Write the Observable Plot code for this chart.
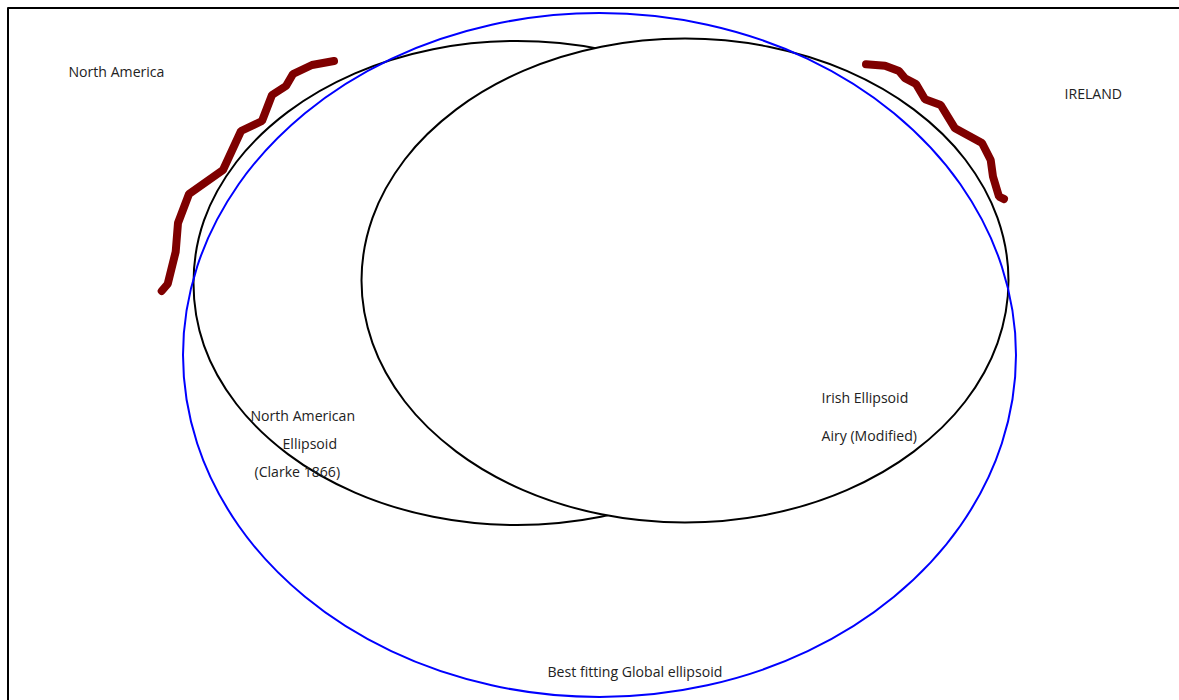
<!DOCTYPE html>
<html>
<head>
<meta charset="utf-8">
<style>html,body{margin:0;padding:0;background:#fff;overflow:hidden}svg{display:block}</style>
<script src="https://cdn.jsdelivr.net/npm/d3@7"></script>
<script src="https://cdn.jsdelivr.net/npm/@observablehq/plot@0.6"></script>
</head>
<body>
<div id="chart"></div>
<script>
const northAmericanX = [841,830,797.6,746.1,679,600.9,517,433.1,355,287.9,236.4,204,193.5,204,236.4,287.9,355,433.1,517,600.9,679,746.1,797.6,830];
const northAmericanY = [283,345.6,404,454.1,492.6,516.8,525,516.8,492.6,454.1,404,345.6,283,220.4,162,111.9,73.4,49.2,41,49.2,73.4,111.9,162,220.4];
const irishX = [1008.5,997.5,965.2,913.7,846.8,768.7,685,601.3,523.2,456.3,404.8,372.5,361.5,372.5,404.8,456.3,523.2,601.3,685,768.7,846.8,913.7,965.2,997.5];
const irishY = [280.5,343.1,401.5,451.6,490.1,514.3,522.5,514.3,490.1,451.6,401.5,343.1,280.5,217.9,159.5,109.4,70.9,46.7,38.5,46.7,70.9,109.4,159.5,217.9];
const globalX = [1016,1001.8,960.2,894,807.75,707.3,599.5,491.7,391.25,305,238.8,197.2,183,197.2,238.8,305,391.25,491.7,599.5,707.3,807.75,894,960.2,1001.8];
const globalY = [355,443.5,526,596.8,651.2,685.3,697,685.3,651.2,596.8,526,443.5,355,266.5,184,113.2,58.8,24.7,13,24.7,58.8,113.2,184,266.5];
const coastAmericaX = [161.7,167.7,175.7,178,189,223,241,262,272,286,293,312,334];
const coastAmericaY = [291,284,251.7,223,194,170,131,121,95,86,74,65,61];
const coastIrelandX = [866,885,899,905,916,925,940.7,955,982,990.7,993,999,1004];
const coastIrelandY = [64.3,65.7,71,78.3,84,99.3,105,128.3,143,160,176.7,196.7,199];
const labels = ["North America","IRELAND","North American","Ellipsoid","(Clarke 1866)","Irish Ellipsoid","Airy (Modified)","Best fitting Global ellipsoid"];
const labelX = [68,1064,250,282,254,821,821,547];
const labelY = [72,94,416,444,472,398,436,672];

const nudge = {dx: -0.5, dy: -0.5};
const ellipse = (xs, ys, options) => Plot.line(xs.map((x, i) => [x, ys[i]]), {curve: "catmull-rom-closed", strokeWidth: 2, ...nudge, ...options});
const coast = (xs, ys) => Plot.line(xs.map((x, i) => [x, ys[i]]), {stroke: "#7f0000", strokeWidth: 8, strokeLinecap: "round", strokeLinejoin: "miter", ...nudge});

const chart = Plot.plot({
  width: 1179, height: 700, margin: 0,
  x: {domain: [0, 1179], range: [0, 1179], axis: null},
  y: {domain: [0, 700], range: [0, 700], axis: null},
  style: {background: "#fff"},
  marks: [
    Plot.ruleX([8], {y1: 8, y2: 701, stroke: "#000", strokeWidth: 2, ...nudge}),
    Plot.ruleY([8], {x1: 8, x2: 1181, stroke: "#000", strokeWidth: 2, ...nudge}),
    ellipse(northAmericanX, northAmericanY, {stroke: "#000"}),
    ellipse(irishX, irishY, {stroke: "#000", fill: "#fff"}),
    ellipse(globalX, globalY, {stroke: "#0000ff"}),
    coast(coastAmericaX, coastAmericaY),
    coast(coastIrelandX, coastIrelandY),
    Plot.text(labels, {
      x: (d, i) => labelX[i], y: (d, i) => labelY[i], text: d => d,
      textAnchor: "start", lineAnchor: "middle", fill: "#222",
      fontFamily: "Open Sans", fontSize: 14.1
    })
  ]
});
document.getElementById("chart").append(chart);
</script>
</body>
</html>
